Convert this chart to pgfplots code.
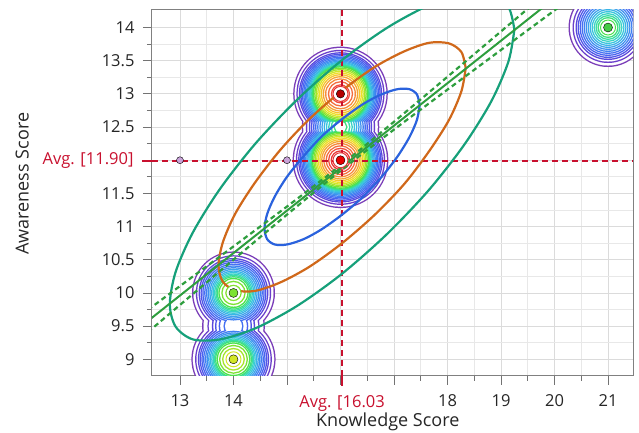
\documentclass[border=0pt]{standalone}
\usepackage{fontspec}
\setmainfont{Open Sans}
\usepackage{pgfplots}
\pgfplotsset{compat=1.18}
\definecolor{avgred}{HTML}{C8102E}
\definecolor{eteal}{HTML}{16A07A}
\definecolor{eorange}{HTML}{D0681A}
\definecolor{eblue}{HTML}{2A62DD}
\definecolor{reggreen}{HTML}{2E9E3E}
\definecolor{c01}{HTML}{7A3DB8}
\definecolor{c02}{HTML}{6B3FCB}
\definecolor{c03}{HTML}{5A48DC}
\definecolor{c04}{HTML}{4F55E8}
\definecolor{c05}{HTML}{4862F0}
\definecolor{c06}{HTML}{4470F2}
\definecolor{c07}{HTML}{4080F2}
\definecolor{c08}{HTML}{3E90F0}
\definecolor{c09}{HTML}{3CA2EC}
\definecolor{c10}{HTML}{3AB4E6}
\definecolor{c11}{HTML}{38C6DC}
\definecolor{c12}{HTML}{38D4C4}
\definecolor{c13}{HTML}{3ADCA4}
\definecolor{c14}{HTML}{3EE07E}
\definecolor{c15}{HTML}{4CE24C}
\definecolor{c16}{HTML}{7CE232}
\definecolor{c17}{HTML}{A6E42A}
\definecolor{c18}{HTML}{D2E626}
\definecolor{c19}{HTML}{F0DE26}
\definecolor{c20}{HTML}{F6C42C}
\definecolor{c21}{HTML}{F6A632}
\definecolor{c22}{HTML}{F68A38}
\definecolor{c23}{HTML}{F46C3C}
\definecolor{c24}{HTML}{F04C3C}
\definecolor{c25}{HTML}{E83434}
\definecolor{c26}{HTML}{DC2424}
\definecolor{ptpurple}{HTML}{C9A3D9}
% one density contour level: outline pass, then white interior pass (radius in pt)
\newcommand{\lev}[2]{%
\addplot[#1, line width=3pt, scatter, only marks, mark=o,
  mark options={draw=#1, line width=3pt},
  scatter/use mapped color={draw=#1, fill=none, line width=3pt},
  visualization depends on={value \thisrow{r} \as \rr},
  scatter/@pre marker code/.append code={\pgfsetlinewidth{3pt}\pgfsetstrokecolor{#1}\pgfsetplotmarksize{\rr pt}}]
  table[row sep=\\]{x y r\\ #2};
\addplot[white, scatter, only marks, mark=*,
  mark options={draw=white, fill=white, line width=0.05pt},
  scatter/use mapped color={draw=white, fill=white, line width=0.05pt},
  visualization depends on={value \thisrow{r} \as \rr},
  scatter/@pre marker code/.append code={\pgfsetlinewidth{0.05pt}\pgfsetstrokecolor{white}\pgfsetfillcolor{white}\pgfsetplotmarksize{\rr pt}}]
  table[row sep=\\]{x y r\\ #2};
}
\newcommand{\fnt}{\fontsize{16.5}{19}\selectfont}
\newcommand{\lfnt}{\fontsize{18}{20}\selectfont}
\begin{document}
\begin{tikzpicture}
\begin{axis}[
  scale only axis, width=481pt, height=366pt,
  xmin=12.477, xmax=21.467, ymin=8.748, ymax=14.264,
  xtick={13,14,15,16,17,18,19,20,21},
  xticklabels={13,14,,,,18,19,20,21},
  ytick={9,9.5,10,10.5,11,11.5,12,12.5,13,13.5,14},
  yticklabels={9,9.5,10,10.5,11,11.5,,12.5,13,13.5,14},
  minor x tick num=1, minor y tick num=1,
  grid=both,
  major grid style={draw=black!14, line width=0.8pt},
  minor grid style={draw=black!9, line width=0.8pt},
  tick align=outside, xtick pos=left, ytick pos=left,
  major tick length=9pt, minor tick length=5pt,
  tick style={draw=black!55, line width=0.8pt},
  axis line style={draw=black!50, line width=1pt},
  clip marker paths=true,
  tick label style={font=\fnt, text=black!85},
  xticklabel style={yshift=-6pt},
  yticklabel style={xshift=-5pt},
  extra x ticks={16.03}, extra x tick labels={{Avg. [16.03}},
  extra y ticks={11.99}, extra y tick labels={{Avg. [11.90]}},
  extra tick style={grid=none, major tick length=10pt,
     tick style={draw=avgred, line width=2.4pt},
     tick label style={text=avgred}},
  xlabel={Knowledge Score}, ylabel={Awareness Score},
  label style={font=\lfnt, text=black!85},
  xlabel style={at={(axis description cs:0.49,-0.139)}, anchor=base},
  ylabel style={at={(axis description cs:-0.27,0.525)}, anchor=center},
]
% density contours (blobs at data points)
\lev{c01}{21 14 38\\ 14 10 40\\ 14 9 40.6\\ 16 12 46.4\\ 16 13 45.8\\ 16 12.5 37.3\\ 14 9.5 29.9\\}
\lev{c02}{21 14 34\\ 14 10 36.2\\ 14 9 36.9\\ 16 12 43.2\\ 16 13 42.6\\ 16 12.5 33.2\\ 14 9.5 24.6\\}
\lev{c03}{21 14 31\\ 14 10 33.4\\ 14 9 34.2\\ 16 12 40.9\\ 16 13 40.2\\ 16 12.5 30.2\\ 14 9.5 20.2\\}
\lev{c04}{21 14 29\\ 14 10 31.5\\ 14 9 32.4\\ 16 12 39.4\\ 16 13 38.7\\ 16 12.5 28.1\\ 14 9.5 17.0\\}
\lev{c05}{21 14 27\\ 14 10 29.7\\ 14 9 30.6\\ 16 12 37.9\\ 16 13 37.2\\ 16 12.5 26.0\\ 14 9.5 13.3\\}
\lev{c06}{21 14 25\\ 14 10 27.9\\ 14 9 28.9\\ 16 12 36.5\\ 16 13 35.8\\ 16 12.5 24.0\\ 14 9.5 8.5\\}
\lev{c07}{21 14 23\\ 14 10 26.1\\ 14 9 27.1\\ 16 12 35.2\\ 16 13 34.4\\ 16 12.5 21.9\\}
\lev{c08}{21 14 21\\ 14 10 24.4\\ 14 9 25.5\\ 16 12 33.9\\ 16 13 33.1\\ 16 12.5 19.7\\}
\lev{c09}{21 14 19\\ 14 10 22.7\\ 14 9 23.9\\ 16 12 32.7\\ 16 13 31.9\\ 16 12.5 17.6\\}
\lev{c10}{21 14 17\\ 14 10 21.0\\ 14 9 22.3\\ 16 12 31.6\\ 16 13 30.7\\ 16 12.5 15.4\\}
\lev{c11}{21 14 15\\ 14 10 19.5\\ 14 9 20.8\\ 16 12 30.6\\ 16 13 29.7\\ 16 12.5 13.2\\}
\lev{c12}{21 14 13\\ 14 10 18.0\\ 14 9 19.4\\ 16 12 29.6\\ 16 13 28.7\\ 16 12.5 10.9\\}
\lev{c13}{21 14 11\\ 14 10 16.6\\ 14 9 18.1\\ 16 12 28.8\\ 16 13 27.9\\ 16 12.5 8.4\\}
\lev{c14}{21 14 9\\ 14 10 15.3\\ 14 9 17.0\\ 16 12 28.1\\ 16 13 27.1\\ 16 12.5 5.5\\}
\lev{c15}{21 14 5.5\\ 14 10 13.6\\ 14 9 15.4\\ 16 12 27.2\\ 16 13 26.2\\}
\lev{c16}{14 10 10.7\\ 14 9 13.0\\ 16 12 25.9\\ 16 13 24.8\\}
\lev{c17}{14 10 6.6\\ 14 9 9.9\\ 16 12 24.5\\ 16 13 23.4\\}
\lev{c18}{14 9 5.3\\ 16 12 23.0\\ 16 13 21.8\\}
\lev{c19}{16 12 21.4\\ 16 13 20.1\\}
\lev{c20}{16 12 19.7\\ 16 13 18.3\\}
\lev{c21}{16 12 17.9\\ 16 13 16.3\\}
\lev{c22}{16 12 15.8\\ 16 13 14.0\\}
\lev{c23}{16 12 13.4\\ 16 13 11.2\\}
\lev{c24}{16 12 11.0\\ 16 13 8.1\\}
\lev{c25}{16 12 8.4\\ 16 13 4.0\\}
\lev{c26}{16 12 5.5\\}
% average reference lines
\addplot[avgred, line width=2.4pt, dash pattern=on 6pt off 4pt] coordinates {(12.477,11.99) (21.467,11.99)};
\addplot[avgred, line width=2.4pt, dash pattern=on 6pt off 4pt] coordinates {(16.03,8.748) (16.03,14.264)};
% density ellipses
\addplot[eteal, line width=2.2pt, smooth] coordinates {(19.25,13.97) (19.14,14.31) (18.82,14.50) (18.31,14.50) (17.64,14.33) (16.86,13.99) (16.03,13.51) (15.20,12.92) (14.42,12.26) (13.75,11.57) (13.24,10.91) (12.92,10.32) (12.81,9.83) (12.92,9.49) (13.24,9.30) (13.75,9.30) (14.42,9.47) (15.20,9.81) (16.03,10.29) (16.86,10.88) (17.64,11.54) (18.31,12.23) (18.82,12.89) (19.14,13.49) (19.25,13.97)};
\addplot[eorange, line width=2.2pt, smooth] coordinates {(18.34,13.39) (18.26,13.63) (18.03,13.76) (17.66,13.77) (17.19,13.64) (16.63,13.40) (16.03,13.05) (15.43,12.63) (14.88,12.16) (14.40,11.66) (14.03,11.19) (13.80,10.76) (13.72,10.41) (13.80,10.17) (14.03,10.04) (14.40,10.03) (14.88,10.16) (15.43,10.40) (16.03,10.75) (16.63,11.17) (17.19,11.64) (17.66,12.14) (18.03,12.61) (18.26,13.04) (18.34,13.39)};
\addplot[eblue, line width=2.2pt, smooth] coordinates {(17.48,12.83) (17.43,12.99) (17.29,13.07) (17.06,13.07) (16.76,12.99) (16.41,12.84) (16.03,12.62) (15.65,12.36) (15.31,12.06) (15.00,11.75) (14.77,11.45) (14.63,11.19) (14.58,10.97) (14.63,10.81) (14.77,10.73) (15.00,10.73) (15.31,10.81) (15.65,10.96) (16.03,11.18) (16.41,11.44) (16.76,11.74) (17.06,12.05) (17.29,12.35) (17.43,12.61) (17.48,12.83)};
% regression line and confidence band
\addplot[reggreen, line width=2pt] coordinates {(12.4,9.577) (20.2,14.569)};
\addplot[reggreen, line width=2.2pt, dash pattern=on 5pt off 3.5pt, smooth] coordinates {(12.4,9.745) (13,10.103) (14,10.701) (15,11.302) (16.03,11.94) (17,12.580) (18,13.258) (19,13.941) (20,14.624)};
\addplot[reggreen, line width=2.2pt, dash pattern=on 5pt off 3.5pt, smooth] coordinates {(12.4,9.409) (13,9.819) (14,10.501) (15,11.180) (16.03,11.86) (17,12.462) (18,13.064) (19,13.662) (20,14.258) (20.5,14.556)};
% points
\addplot[only marks, mark=*, mark size=3.5pt, mark options={draw=none, fill=ptpurple}] coordinates {(13,12) (15,12)};
\addplot[only marks, mark=*, mark size=7.5pt, mark options={draw=c15, fill=white, line width=1pt}] coordinates {(21,14)};
\addplot[only marks, mark=*, mark size=7.5pt, mark options={draw=c16, fill=white, line width=1pt}] coordinates {(14,10)};
\addplot[only marks, mark=*, mark size=7.5pt, mark options={draw=c18, fill=white, line width=1pt}] coordinates {(14,9)};
\addplot[only marks, mark=*, mark size=7.5pt, mark options={draw=c25, fill=white, line width=1pt}] coordinates {(16,12) (16,13)};
\addplot[only marks, mark=*, mark size=4.5pt, mark options={draw=none, fill=c15!90!black}] coordinates {(21,14)};
\addplot[only marks, mark=*, mark size=4.5pt, mark options={draw=none, fill=c16}] coordinates {(14,10)};
\addplot[only marks, mark=*, mark size=4.5pt, mark options={draw=none, fill=c18}] coordinates {(14,9)};
\addplot[only marks, mark=*, mark size=4.5pt, mark options={draw=none, fill=red!90!black}] coordinates {(16,12)};
\addplot[only marks, mark=*, mark size=4.2pt, mark options={draw=none, fill=red!70!black}] coordinates {(16,13)};
\end{axis}
\pgfresetboundingbox
\path[use as bounding box] ([shift={(-152pt,-57pt)}]current axis.south west) rectangle ([shift={(6pt,10pt)}]current axis.north east);
\end{tikzpicture}
\end{document}
